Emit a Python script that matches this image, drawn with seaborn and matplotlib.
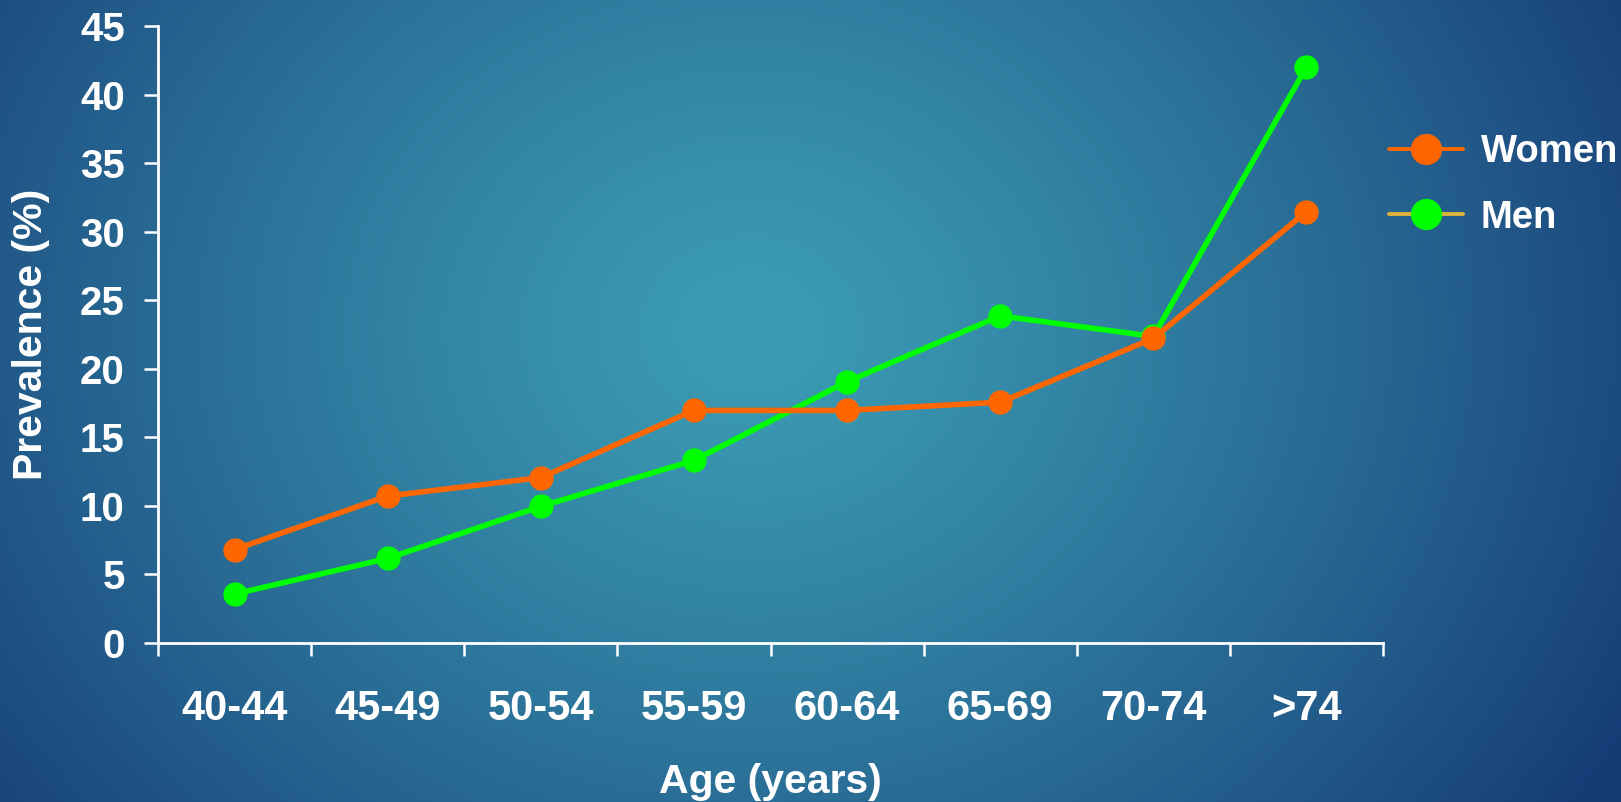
import numpy as np
import pandas as pd
import matplotlib
matplotlib.use("Agg")
import matplotlib.pyplot as plt
from matplotlib.lines import Line2D
import seaborn as sns

# ---- data ----
age_groups = ["40-44", "45-49", "50-54", "55-59", "60-64", "65-69", "70-74", ">74"]
women = [6.8, 10.7, 12.05, 16.95, 16.95, 17.55, 22.2, 31.45]
men = [3.55, 6.15, 9.95, 13.3, 19.05, 23.85, 22.35, 42.0]
y_ticks = [0, 5, 10, 15, 20, 25, 30, 35, 40, 45]

sns.set_theme(style="white")
plt.rcParams["font.family"] = ["Liberation Sans", "DejaVu Sans"]
plt.rcParams["font.weight"] = "bold"

W, H = 1621, 802
fig = plt.figure(figsize=(W / 100, H / 100), dpi=100)

# ---- radial gradient background ----
bg = fig.add_axes([0, 0, 1, 1], zorder=-10)
yy, xx = np.mgrid[0:H, 0:W]
cx, cy = 750.0, 330.0
rx, ry = 1000.0, 850.0
t = np.sqrt(((xx - cx) / rx) ** 2 + ((yy - cy) / ry) ** 2)
t = np.clip(t, 0, 1) ** 1.25
c0 = np.array([60, 156, 180]) / 255.0
c1 = np.array([22, 60, 118]) / 255.0
img = c0[None, None, :] * (1 - t[..., None]) + c1[None, None, :] * t[..., None]
bg.imshow(img, aspect="auto", extent=[0, 1, 0, 1], origin="upper")
bg.set_axis_off()

# ---- main axes ----
ax = fig.add_axes([158 / W, 1 - 642.7 / H, (1383 - 158) / W, (642.7 - 26) / H])
ax.set_facecolor("none")

df = pd.DataFrame({
    "Age": age_groups * 2,
    "Prevalence": men + women,
    "Sex": ["Men"] * len(age_groups) + ["Women"] * len(age_groups),
})
df["pos"] = list(range(len(age_groups))) * 2

palette = {"Women": "#FF6600", "Men": "#00FF00"}
sns.lineplot(data=df, x="pos", y="Prevalence", hue="Sex", hue_order=["Men", "Women"],
             palette=palette, marker="o", markersize=17.5, markeredgewidth=0,
             linewidth=4.0, sort=False, legend=False, ax=ax)

ax.set_xlim(-0.5, len(age_groups) - 0.5)
ax.set_ylim(0, 45)
ax.set_yticks(y_ticks)
ax.set_yticklabels([str(v) for v in y_ticks])
ax.set_xticks(np.arange(-0.5, len(age_groups), 1.0))
ax.set_xticklabels([])
ax.set_xticks(np.arange(len(age_groups)), minor=True)
ax.set_xticklabels(age_groups, minor=True)

for s in ["top", "right"]:
    ax.spines[s].set_visible(False)
for s in ["left", "bottom"]:
    ax.spines[s].set_color("white")
    ax.spines[s].set_linewidth(2.0)

ax.tick_params(axis="y", which="major", direction="out", length=10, width=1.8,
               color="white", labelcolor="white", labelsize=29, pad=14, left=True)
ax.tick_params(axis="x", which="major", direction="out", length=9.5, width=1.8,
               color="white", bottom=True)
ax.tick_params(axis="x", which="minor", length=0, labelcolor="white", labelsize=30, pad=33)
for lab in ax.get_yticklabels() + ax.get_xticklabels(minor=True):
    lab.set_fontweight("bold")

ax.set_xlabel("Age (years)", color="white", fontsize=29.5, fontweight="bold")
ax.xaxis.set_label_coords(0.5, -0.195)
ax.set_ylabel("Prevalence (%)", color="white", fontsize=29.5, fontweight="bold")
ax.yaxis.set_label_coords(-0.088, 0.5)

handles = [
    Line2D([], [], color="#FF6600", lw=2.8, marker="o", markersize=22.5,
           markerfacecolor="#FF6600", markeredgewidth=0),
    Line2D([], [], color="#E0B43A", lw=2.8, marker="o", markersize=22.5,
           markerfacecolor="#00FF00", markeredgewidth=0),
]
leg = fig.legend(handles, ["Women", "Men"], loc="upper left",
                 bbox_to_anchor=(1389 / W, 1 - 134 / H), frameon=False,
                 borderpad=0, borderaxespad=0, handlelength=1.95,
                 handletextpad=0.45, labelspacing=0.78,
                 prop={"family": "Liberation Sans", "weight": "bold", "size": 27.5})
for txt in leg.get_texts():
    txt.set_color("white")

fig.savefig("out.png", dpi=100)
